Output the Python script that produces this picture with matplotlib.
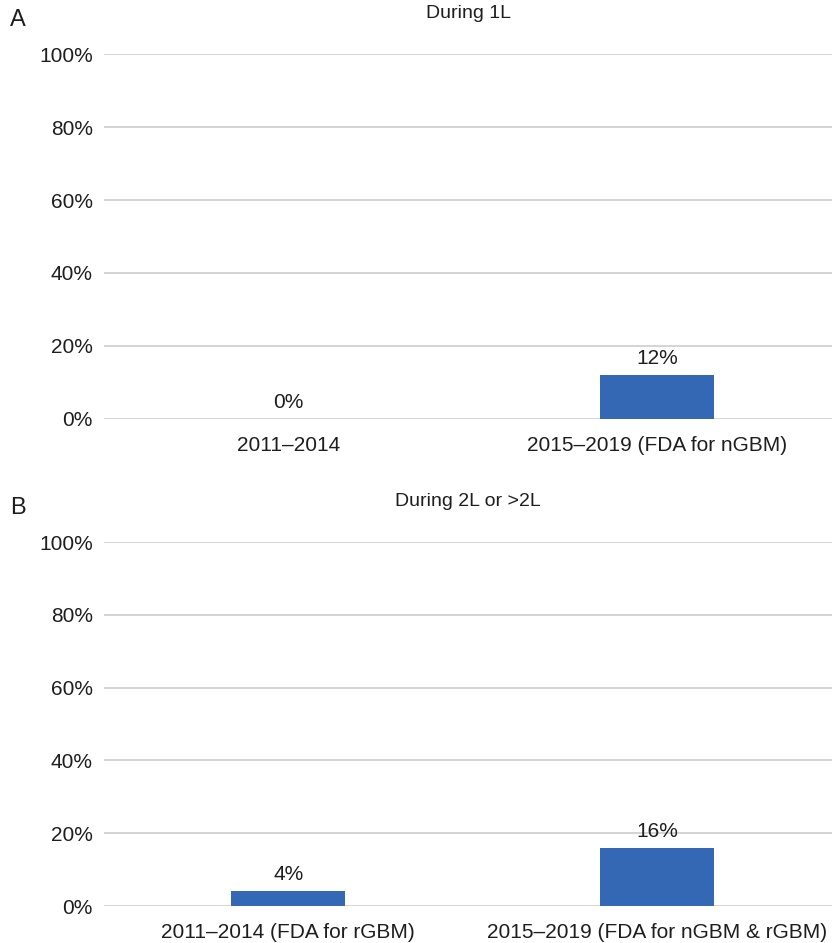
import numpy as np
import matplotlib.pyplot as plt

plt.rcParams['font.family'] = ['Liberation Sans', 'DejaVu Sans']

# panel A data
cats_a = ["2011\u20132014", "2015\u20132019 (FDA for nGBM)"]
vals_a = [0, 12]
# panel B data
cats_b = ["2011\u20132014 (FDA for rGBM)", "2015\u20132019 (FDA for nGBM & rGBM)"]
vals_b = [4, 16]

titles = ["During 1L", "During 2L or >2L"]
yticks = [0, 20, 40, 60, 80, 100]

bar_color = "#3568B4"
grid_color = "#d4d4d4"
txt_color = "#1e1e1e"

fig = plt.figure(figsize=(8.32, 9.43), dpi=100)
ax_a = fig.add_axes([0.125, 0.5557, 0.875, 0.387])
ax_b = fig.add_axes([0.125, 0.0392, 0.875, 0.386])

for ax, cats, vals in zip([ax_a, ax_b], [cats_a, cats_b], [vals_a, vals_b]):
    x = np.arange(len(cats))
    ax.bar(x, vals, width=0.31, color=bar_color, zorder=3)
    for xi, v in zip(x, vals):
        ax.text(xi, v + 2, f"{v}%", ha="center", va="bottom", fontsize=15,
                color=txt_color)
    ax.set_xlim(-0.5, 1.475)
    ax.set_ylim(0, 100)
    ax.set_yticks(yticks)
    ax.set_yticklabels([f"{t}%" for t in yticks])
    ax.set_xticks(x)
    ax.set_xticklabels(cats)
    ax.tick_params(axis="both", length=0, labelsize=15, colors=txt_color)
    ax.tick_params(axis="x", pad=12)
    ax.tick_params(axis="y", pad=8)
    ax.grid(axis="y", color=grid_color, linewidth=1.4, zorder=0)
    for s in ax.spines.values():
        s.set_visible(False)

# panel titles and letters
fig.text(0.5625, 1 - 14 / 943, titles[0], fontsize=14, color=txt_color,
         ha="center", va="center")
fig.text(0.5625, 1 - 502 / 943, titles[1], fontsize=14, color=txt_color,
         ha="center", va="center")
fig.text(0.012, 1 - 20 / 943, "A", fontsize=17, color=txt_color, va="center")
fig.text(0.012, 1 - 508 / 943, "B", fontsize=17, color=txt_color, va="center")

fig.savefig("out.png", dpi=100)
